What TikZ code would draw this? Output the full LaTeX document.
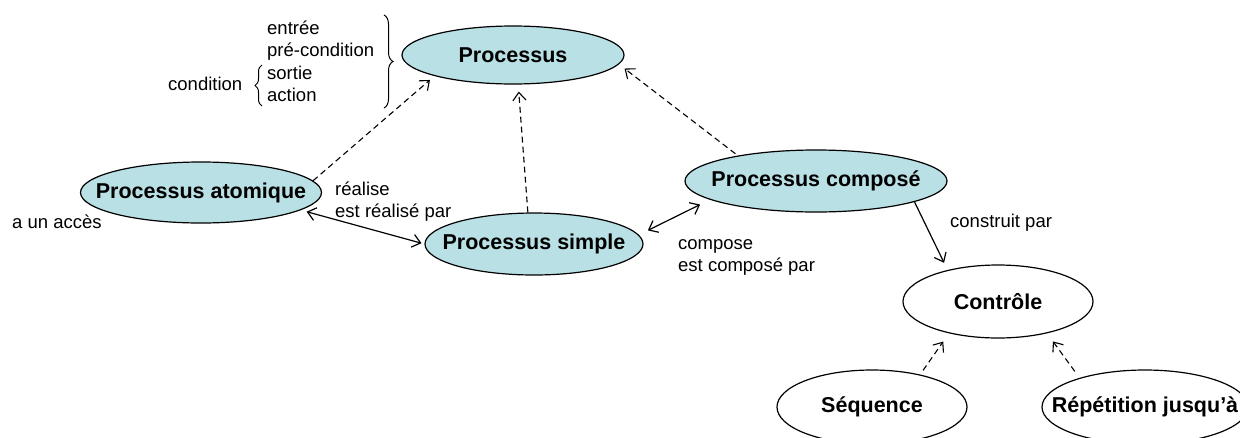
\documentclass[tikz,border=0pt]{standalone}
\usepackage{fontspec}
\setmainfont{Liberation Sans}
\usetikzlibrary{shapes.geometric,arrows.meta,decorations.pathreplacing}
\definecolor{procfill}{RGB}{185,224,228}
\begin{document}
\begin{tikzpicture}[x=1pt,y=-1pt,
  >={Straight Barb[length=8pt,width=13pt]},
  proc/.style={ellipse, draw, line width=1.2pt, fill=procfill, inner sep=0pt},
  ctrl/.style={ellipse, draw, line width=1.2pt, fill=white, inner sep=0pt},
  lbl/.style={font=\fontsize{21.5}{25}\selectfont\bfseries, inner sep=0pt},
  txt/.style={font=\fontsize{18.5}{22.4}\selectfont, inner sep=0pt, anchor=base west},
  dep/.style={->, line width=1.1pt, dash pattern=on 6pt off 4pt},
  rel/.style={line width=1.2pt},
  bracestyle/.style={decorate, line width=1pt},
]
\useasboundingbox (0,0) rectangle (1240,437);

% ellipses
\node[proc, minimum width=222pt, minimum height=58pt, label={[lbl]center:Processus}] (p) at (513,55) {};
\node[proc, minimum width=241pt, minimum height=61pt, label={[lbl]center:Processus atomique}] (a) at (201,192.5) {};
\node[proc, minimum width=218pt, minimum height=62pt, label={[lbl]center:Processus simple}] (s) at (534,244) {};
\node[proc, minimum width=262pt, minimum height=62pt, label={[lbl]center:Processus composé}] (c) at (816,181) {};
\node[ctrl, minimum width=190pt, minimum height=73pt, label={[lbl]center:Contrôle}] (k) at (998,301.5) {};
\node[ctrl, minimum width=190pt, minimum height=74pt, label={[lbl]center:Séquence}] (q) at (872,407) {};
\node[ctrl, minimum width=206pt, minimum height=74pt, label={[lbl]center:Répétition jusqu’à}] (r) at (1145,407) {};

% texts
\node[txt] (lst) at (267,34.5) {\begin{tabular}[t]{@{}l@{}}entrée\\pré-condition\\sortie\\action\end{tabular}};
\node[txt] (cond) at (168,90) {condition};
\node[txt] (acc) at (12,228) {a un accès};
\node[txt] (real) at (335,195) {\begin{tabular}[t]{@{}l@{}}réalise\\est réalisé par\end{tabular}};
\node[txt] (comp) at (678,249) {\begin{tabular}[t]{@{}l@{}}compose\\est composé par\end{tabular}};
\node[txt] (cons) at (950,227) {construit par};

% braces
\draw[bracestyle, decoration={brace, amplitude=9pt}] (384,15) -- (384,108);
\draw[bracestyle, decoration={brace, amplitude=7pt}] (262,106) -- (262,65);

% connectors
\draw[dep, shorten >=6pt] (a.6) -- (p.195.6);
\draw[dep, shorten >=7pt] (s.101) -- (p.-80);
\draw[dep, shorten <=3pt, shorten >=7pt] (c.162) -- (p.-5.4);
\draw[rel, <->, shorten <=6pt, shorten >=3pt] (a.-10.9) -- (s.180);
\draw[rel, <->, shorten <=10pt, shorten >=11pt] (s.5.4) -- (c.190.7);
\draw[rel, ->, shorten >=8pt] (c.-12.8) -- (k.148);
\draw[dep, shorten <=5pt, shorten >=10pt] (q.34) -- (k.213.5);
\draw[dep, shorten <=8pt, shorten >=10pt] (r.156) -- (k.-33.2);
\end{tikzpicture}
\end{document}
